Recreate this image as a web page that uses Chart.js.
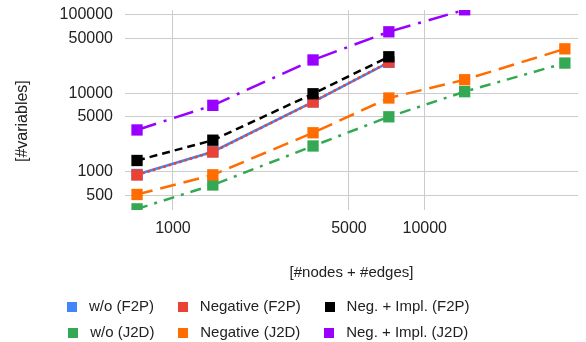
<!DOCTYPE html>
<html>
<head>
<meta charset="utf-8">
<script src="https://cdn.jsdelivr.net/npm/chart.js@4.4.1/dist/chart.umd.min.js"></script>
<style>
  html, body { margin: 0; padding: 0; background: #fff; }
</style>
</head>
<body>
<canvas id="chart" width="586" height="342"></canvas>
<script>
// graph size (#nodes + #edges) of each benchmark step
const sizes = [720, 1440, 3600, 7200, 14400, 36000];

// #variables per encoding
const woF2P = [930, 1810, 7800, 24700];
const negF2P = [916, 1795, 7740, 25000];
const negImplF2P = [1400, 2535, 9860, 29100];
const woJ2D = [340, 684, 2140, 5025, 10480, 24200];
const negJ2D = [518, 920, 3150, 8710, 14860, 36700];
const negImplJ2D = [3420, 7030, 26500, 60400, 115000];

const seriesNames = ['w/o (F2P)', 'Negative (F2P)', 'Neg. + Impl. (F2P)', 'w/o (J2D)', 'Negative (J2D)', 'Neg. + Impl. (J2D)'];
const seriesValues = [woF2P, negF2P, negImplF2P, woJ2D, negJ2D, negImplJ2D];

const xTicks = [1000, 5000, 10000];
const yTicks = [500, 1000, 5000, 10000, 50000, 100000];

// styles
const colors = ['#4285f4', '#ea4335', '#000000', '#34a853', '#ff6d01', '#9900ff'];
const dashes = [[], [2.5, 3], [8, 5], [11, 7, 3, 7], [16, 8], [20, 8, 3, 8]];
const FONT = 'Liberation Sans, Arial, sans-serif';

// small square swatches for the legend (leaves a wider gap before the text)
const swatches = colors.map(c => {
  const cv = document.createElement('canvas');
  cv.width = 10;
  cv.height = 10;
  const cx = cv.getContext('2d');
  cx.fillStyle = c;
  cx.fillRect(0, 0, 10, 10);
  return cv;
});

const datasets = seriesValues.map((vals, i) => ({
  label: seriesNames[i],
  data: vals.map((v, j) => ({ x: sizes[j], y: v })),
  borderColor: colors[i],
  backgroundColor: colors[i],
  borderDash: dashes[i],
  borderWidth: 2.5,
  pointStyle: 'rect',
  pointRadius: 8,
  pointBorderWidth: 0,
  pointBackgroundColor: colors[i],
  tension: 0,
  order: -i, // later series on top
}));

// keep legend at 3 items per row, shifted like the original
const legendRows = {
  id: 'legendRows',
  afterLayout(chart) {
    const lg = chart.legend;
    lg.maxWidth = 480;
    lg.fit();
    const pad = lg.options.labels.padding;
    lg.left = 0;
    lg.right = 2 * 62.5 - pad + lg.lineWidths[0];
  }
};

new Chart(document.getElementById('chart'), {
  type: 'line',
  data: { datasets },
  plugins: [legendRows],
  options: {
    responsive: false,
    animation: false,
    layout: { padding: { top: 10, bottom: -8, left: 0, right: 0 } },
    plugins: {
      tooltip: { enabled: false },
      legend: {
        position: 'bottom',
        labels: {
          usePointStyle: true,
          pointStyleWidth: 19,
          boxHeight: 10,
          padding: 11,
          color: '#222',
          font: { family: FONT, size: 15 },
          sort: (a, b) => a.datasetIndex - b.datasetIndex,
          generateLabels: chart =>
            Chart.defaults.plugins.legend.labels.generateLabels(chart).map(l => ({
              ...l, text: l.text + '  ', lineWidth: 0, lineDash: [], pointStyle: swatches[l.datasetIndex],
            })),
        },
      },
    },
    scales: {
      x: {
        type: 'logarithmic',
        min: 645,
        max: 40600,
        afterBuildTicks: s => { s.ticks = xTicks.map(v => ({ value: v })); },
        afterFit: s => { s.height = 78; s.paddingLeft = 0; s.paddingRight = 0; },
        ticks: {
          callback: v => String(v),
          autoSkip: false,
          maxRotation: 0,
          padding: 9,
          color: '#222',
          font: { family: FONT, size: 16 },
        },
        grid: { color: '#cccccc', lineWidth: 1, drawTicks: false },
        border: { display: false },
        title: {
          display: true,
          text: '[#nodes + #edges]',
          color: '#222',
          font: { family: FONT, size: 15 },
          padding: { top: 0, bottom: 6 },
        },
      },
      y: {
        type: 'logarithmic',
        min: 329,
        max: 114300,
        afterBuildTicks: s => { s.ticks = yTicks.map(v => ({ value: v })); },
        afterFit: s => { s.width = 125; s.paddingTop = 0; s.paddingBottom = 0; },
        ticks: {
          callback: v => String(v),
          autoSkip: false,
          padding: 12,
          color: '#222',
          font: { family: FONT, size: 16 },
        },
        grid: { color: '#cccccc', lineWidth: 1, drawTicks: false },
        border: { display: false },
        title: {
          display: true,
          // trailing spaces push the label down to where the original sits
          text: '[#variables]     ',
          color: '#222',
          font: { family: FONT, size: 16 },
          padding: { top: 13, bottom: 0 },
        },
      },
    },
  },
});
</script>
</body>
</html>
